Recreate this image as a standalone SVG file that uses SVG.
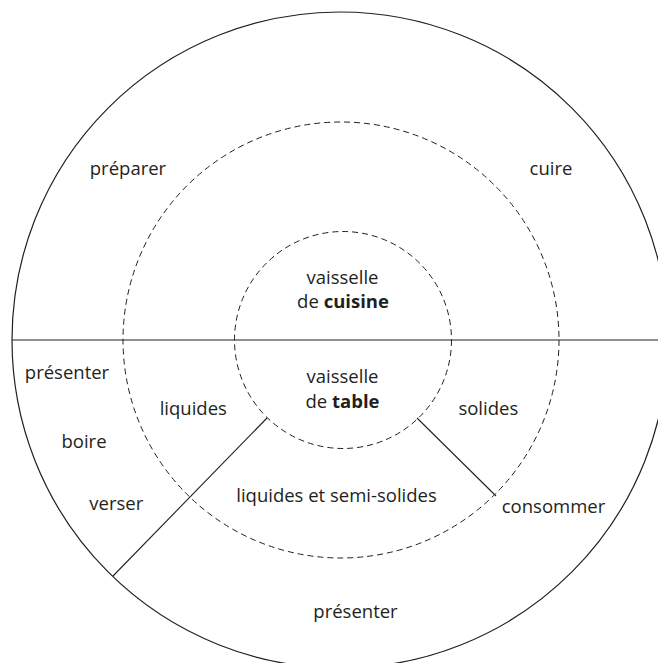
<svg xmlns="http://www.w3.org/2000/svg" width="658" height="663" viewBox="0 0 658 663">
<style>
.solid{fill:none;stroke:#231f20;stroke-width:1.2}
.dash{fill:none;stroke:#231f20;stroke-width:1;stroke-dasharray:6,4}
.line{fill:none;stroke:#231f20;stroke-width:1.1}
text{font-family:"Open Sans","Liberation Sans",sans-serif;font-size:18.5px;fill:#231f20;text-anchor:middle}
.b{font-weight:bold}
</style>
<rect width="658" height="663" fill="#ffffff"/>
<g id="outer-circle"><circle class="solid" cx="340" cy="340" r="328"/></g>
<g id="middle-circle"><circle class="dash" cx="341" cy="340" r="218"/></g>
<g id="inner-circle"><circle class="dash" cx="343" cy="340" r="108.5"/></g>
<g id="connectors">
<line class="line" x1="12" y1="340" x2="658" y2="340"/>
<line class="line" x1="267" y1="418" x2="113" y2="576"/>
<line class="line" x1="417" y1="418" x2="496" y2="496"/>
</g>
<g id="preparer"><text x="128" y="175">préparer</text></g>
<g id="cuire"><text x="551" y="175">cuire</text></g>
<g id="vaisselle-cuisine"><text x="342.5" y="284">vaisselle</text><text x="343" y="308.3">de <tspan class="b">cuisine</tspan></text></g>
<g id="vaisselle-table"><text x="342.5" y="382.7">vaisselle</text><text x="342.5" y="408.3">de <tspan class="b">table</tspan></text></g>
<g id="presenter-left"><text x="67" y="379">présenter</text></g>
<g id="boire"><text x="84" y="448.3">boire</text></g>
<g id="verser"><text x="116.3" y="510">verser</text></g>
<g id="liquides"><text x="193.3" y="415">liquides</text></g>
<g id="liquides-semi-solides"><text x="336.5" y="502.3">liquides et semi-solides</text></g>
<g id="solides"><text x="488.3" y="415">solides</text></g>
<g id="consommer"><text x="553.5" y="513.3">consommer</text></g>
<g id="presenter-bottom"><text x="355.5" y="618.3">présenter</text></g>
</svg>
